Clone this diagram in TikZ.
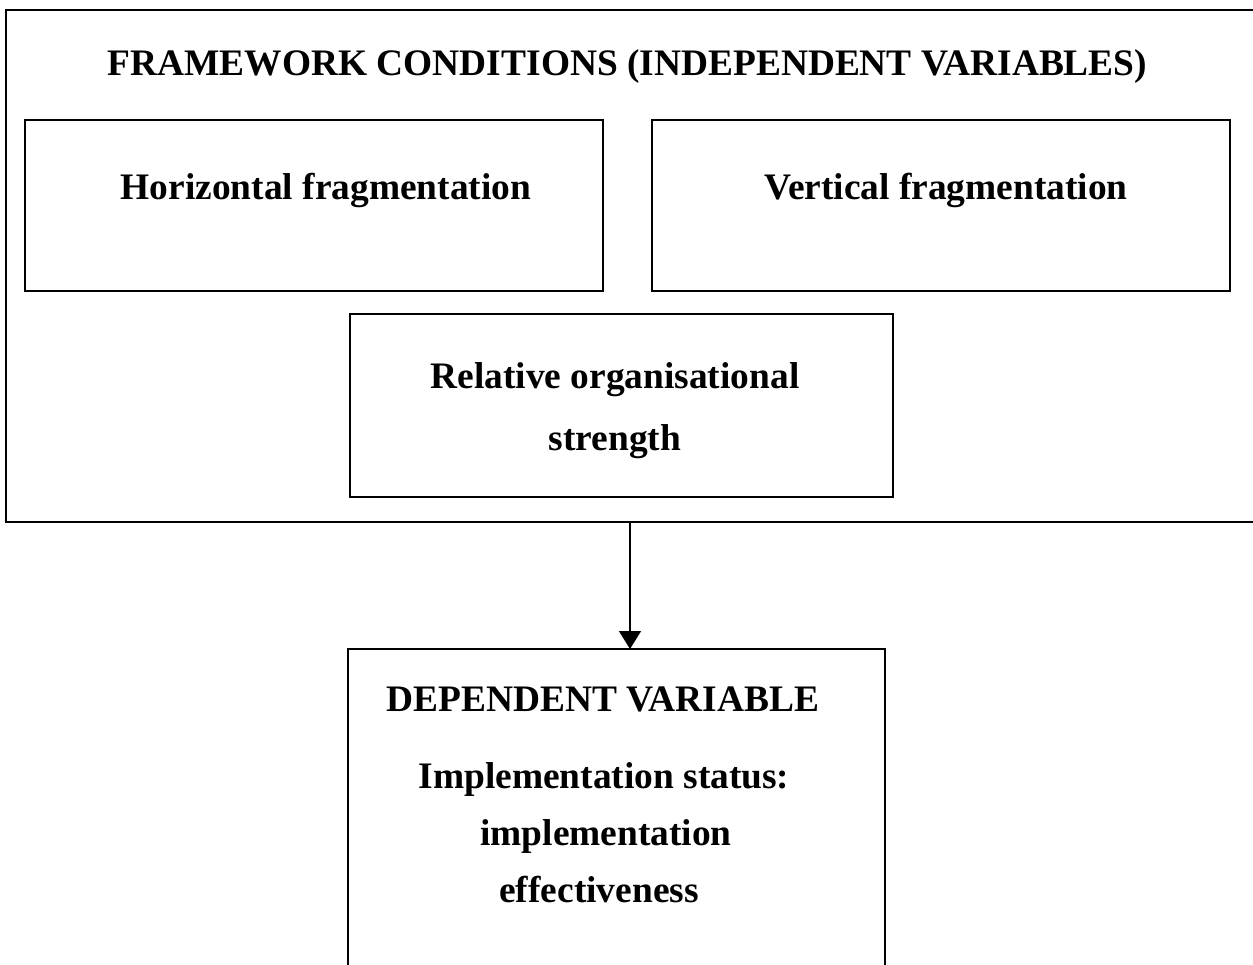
\documentclass[tikz,border=0pt]{standalone}
\usepackage{fontspec}
\setmainfont{Liberation Serif}
\usetikzlibrary{arrows.meta}
\tikzset{
  frm/.style={draw, line width=0.75pt, inner sep=0pt, outer sep=0pt, anchor=north west},
  lbl/.style={anchor=base, inner sep=0pt, font=\bfseries\fontsize{18.7}{22}\selectfont},
  arr/.style={line width=0.75pt, -{Triangle[length=9pt,width=11pt]}}
}
\begin{document}
\begin{tikzpicture}[x=0.5pt,y=-0.5pt]
\clip (0,0) rectangle (1253,964);
\fill[white] (0,0) rectangle (1253,964);
% boxes
\node[frm, minimum width=628pt, minimum height=256pt] (outer) at (6,10) {};
\node[frm, minimum width=289pt, minimum height=85.5pt] (horiz) at (25,120) {};
\node[frm, minimum width=289pt, minimum height=85.5pt] (vert) at (652,120) {};
\node[frm, minimum width=271.5pt, minimum height=91.5pt] (rel) at (350,314) {};
\node[frm, minimum width=268.5pt, minimum height=170pt] (dep) at (348,649) {};
% texts
\node[lbl] (t0) at (627.5,75) {FRAMEWORK CONDITIONS (INDEPENDENT VARIABLES)};
\node[lbl] (t1) at (326,199) {Horizontal fragmentation};
\node[lbl] (t2) at (946,199) {Vertical fragmentation};
\node[lbl] (t3) at (615,388) {Relative organisational};
\node[lbl] (t4) at (615,450) {strength};
\node[lbl] (t5) at (603,711.5) {DEPENDENT VARIABLE};
\node[lbl] (t6) at (604,788) {Implementation status:};
\node[lbl] (t7) at (606,845) {implementation};
\node[lbl] (t8) at (599,902) {effectiveness};
% arrow
\coordinate (ax) at (630,0);
\draw[arr] (ax |- outer.south) -- (ax |- dep.north);
\end{tikzpicture}
\end{document}
